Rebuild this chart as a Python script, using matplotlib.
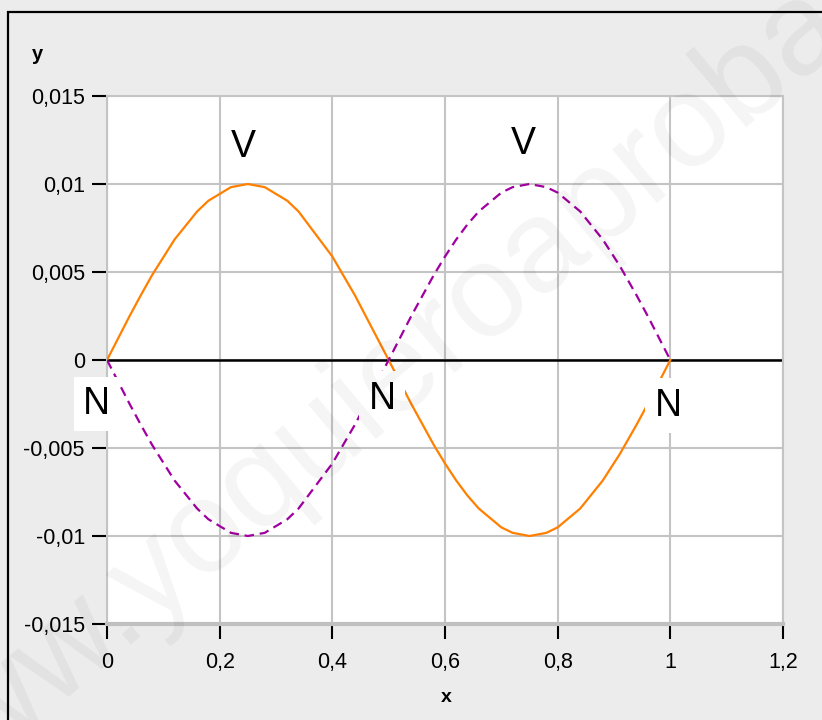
import matplotlib
matplotlib.use("Agg")
import matplotlib.pyplot as plt
from matplotlib.patches import Rectangle

# ---- data ----
x_vals = [0, 0.04, 0.06, 0.08, 0.12, 0.16, 0.18, 0.22, 0.25, 0.28, 0.32, 0.34, 0.40, 0.44, 0.50,
          0.54, 0.58, 0.60, 0.62, 0.64, 0.66, 0.70, 0.72, 0.75, 0.78, 0.80, 0.84, 0.88, 0.91,
          0.94, 0.96, 1.0]
y_orange = [0, 0.00249, 0.00368, 0.00482, 0.00685, 0.00844, 0.00905, 0.00982, 0.0100, 0.00982,
            0.00905, 0.00844, 0.00588, 0.00368, 0,
            -0.00249, -0.00482, -0.00588, -0.00685, -0.00771, -0.00844, -0.00951, -0.00982,
            -0.0100, -0.00982, -0.00951, -0.00844, -0.00685, -0.00536, -0.00368, -0.00249, 0]
y_purple = [0, -0.00249, -0.00368, -0.00482, -0.00685, -0.00844, -0.00905, -0.00982, -0.0100,
            -0.00982, -0.00905, -0.00844, -0.00588, -0.00368, 0,
            0.00249, 0.00482, 0.00588, 0.00685, 0.00771, 0.00844, 0.00951, 0.00982,
            0.0100, 0.00982, 0.00951, 0.00844, 0.00685, 0.00536, 0.00368, 0.00249, 0]

x_ticks = [0, 0.2, 0.4, 0.6, 0.8, 1.0, 1.2]
x_ticklabels = ["0", "0,2", "0,4", "0,6", "0,8", "1", "1,2"]
y_ticks = [-0.015, -0.01, -0.005, 0, 0.005, 0.01, 0.015]
y_ticklabels = ["-0,015", "-0,01", "-0,005", "0", "0,005", "0,01", "0,015"]

v_labels = [(0.2416, 0.0121), (0.739, 0.0123)]
n_labels = [(-0.018, -0.0025), (0.488, -0.0022), (0.996, -0.0026)]

plt.rcParams['font.family'] = ['Liberation Sans', 'DejaVu Sans']

W, H = 822, 720
fig = plt.figure(figsize=(W / 100, H / 100), dpi=100, facecolor='#ececec')

# outer frame
fig.patches.append(Rectangle((8 / W, 0 - 0.05), 1.1, (H - 12) / H + 0.05, transform=fig.transFigure,
                             fill=False, edgecolor='black', linewidth=1.6, clip_on=False))

ax = fig.add_axes([107 / W, 1 - 624 / H, (783 - 107) / W, (624 - 96) / H])
ax.set_facecolor('white')
ax.set_xlim(0, 1.2)
ax.set_ylim(-0.015, 0.015)

ax.set_xticks(x_ticks)
ax.set_xticklabels(x_ticklabels)
ax.set_yticks(y_ticks)
ax.set_yticklabels(y_ticklabels)
ax.tick_params(axis='both', direction='out', length=11, width=1.5, color='black',
               labelsize=15.5, labelcolor='black')
ax.tick_params(axis='x', pad=9)
ax.tick_params(axis='y', pad=5)

ax.grid(True, color='#c4c4c4', linewidth=1.5, zorder=0)
ax.set_axisbelow(True)
for s in ['left', 'top', 'right']:
    ax.spines[s].set_color('#c4c4c4')
    ax.spines[s].set_linewidth(1.5)
ax.spines['bottom'].set_color('#c0c0c0')
ax.spines['bottom'].set_linewidth(3)

ax.axhline(0, color='black', linewidth=1.8, zorder=2)

ax.plot(x_vals, y_orange, color='#ff8000', linewidth=1.6, zorder=3)
ax.plot(x_vals, y_purple, color='#a000a0', linewidth=1.6, linestyle=(0, (4.3, 2.6)), zorder=3)

for (xv, yv) in v_labels:
    ax.text(xv, yv, "V", fontsize=27, ha='center', va='center', color='black', zorder=5)
for (xv, yv) in n_labels:
    ax.text(xv, yv, "N", fontsize=27, ha='center', va='center', color='black', zorder=5,
            clip_on=False,
            bbox=dict(facecolor='white', edgecolor='none', boxstyle='square,pad=0.25'))

fig.text(37 / W, 1 - 55 / H, "y", fontsize=14.5, fontweight='bold', ha='center', va='center')
fig.text(446 / W, 1 - 698 / H, "x", fontsize=14, fontweight='bold', ha='center', va='center')

# watermark (cut by the figure edges, as in the reference)
fig.text(440 / W, 1 - 340 / H, "www.yoquieroaprobar.es", fontsize=95, rotation=40,
         color='black', alpha=0.045, ha='center', va='center', zorder=10)

fig.savefig("out.png", dpi=100, facecolor=fig.get_facecolor())
